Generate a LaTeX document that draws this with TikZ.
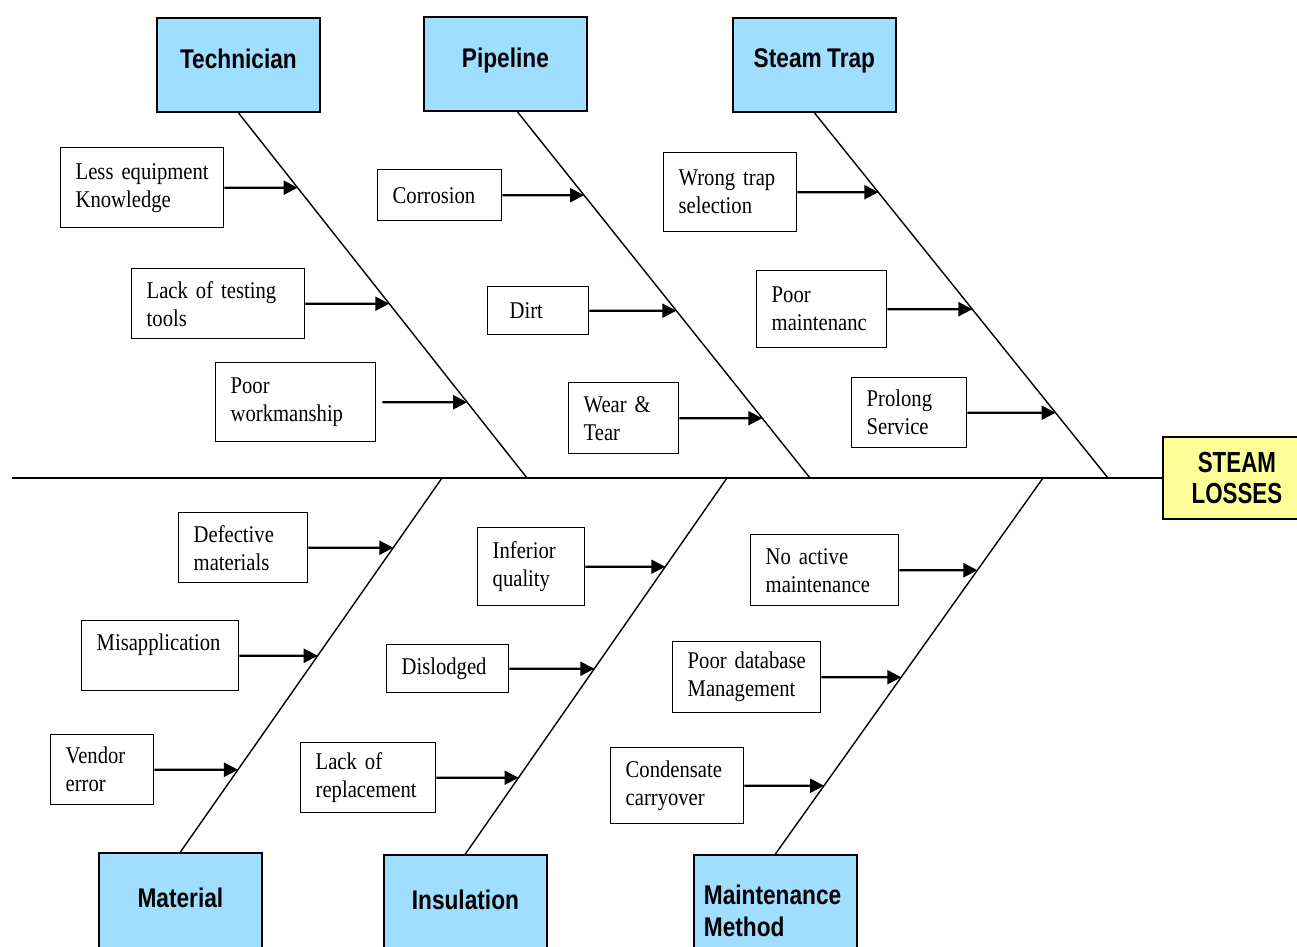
\documentclass[tikz,border=0pt]{standalone}
\usepackage{fontspec}
\setmainfont[FakeStretch=0.86,WordSpace=0.8]{Liberation Serif}
\newfontfamily\headfamily[FakeStretch=0.84,WordSpace=0.85]{Liberation Sans}
\newfontfamily\effectfamily[FakeStretch=0.77]{Liberation Sans}
\usetikzlibrary{arrows.meta}
\definecolor{headblue}{RGB}{160,222,255}
\definecolor{effectyellow}{RGB}{255,255,153}
\def\causefont{\fontsize{12}{14}\selectfont}
\def\headfont{\headfamily\bfseries\fontsize{13.5}{16}\selectfont}
\def\effectfont{\effectfamily\bfseries\fontsize{14.5}{15.5}\selectfont}
\tikzset{
  cause/.style={draw, line width=0.7pt, fill=white, anchor=north west, align=left,
    inner xsep=7.5pt, inner ysep=2pt, font=\causefont, text width=#1},
  head/.style={draw, line width=0.9pt, fill=headblue, anchor=north west,
    minimum width=81.5pt, font=\headfont},
  bone/.style={line width=0.7pt},
  arr/.style={line width=1.1pt, -{Triangle[length=7pt,width=7pt]}}
}

\begin{document}
\begin{tikzpicture}[x=0.5pt,y=-0.5pt]
          \useasboundingbox (0,0) rectangle (1297,947);
          \node[head, minimum height=47pt, text height=10pt, text depth=6pt] (tech) at (156,17) {Technician};
          \node[head, minimum height=47pt, text height=10pt, text depth=6pt] (pipe) at (423,16) {Pipeline};
          \node[head, minimum height=47pt, text height=10pt, text depth=7pt] (trap) at (732,17) {Steam Trap};
          \node[head, minimum height=60pt, text height=10pt, text depth=15pt] (mat) at (98,852) {Material};
          \node[head, minimum height=60pt, text height=10pt, text depth=15pt] (ins) at (383,854) {Insulation};
          \node[head, minimum height=56pt, align=left, inner xsep=5pt, text width=71.5pt] (meth) at (693,854) {Maintenance\\Method};
          \node[draw, line width=0.9pt, fill=effectyellow, anchor=west, minimum width=74pt,
                minimum height=41pt, align=center, font=\effectfont] (effect) at (1162,478) {STEAM\\LOSSES};

          \coordinate (tail) at (12,478);
          \coordinate (s1) at (527,478);
          \coordinate (s2) at (810,478);
          \coordinate (s3) at (1108,478);
          \coordinate (m1) at (442,478);
          \coordinate (m2) at (727,478);
          \coordinate (m3) at (1043,478);
          \coordinate (pb) at ([xshift=6pt]pipe.south);

          \draw [line width=0.9pt] (tail) -- (effect.west);
          \draw [bone] (tech.south) -- (s1);
          \draw [bone] (pb) -- (s2);
          \draw [bone] (trap.south) -- (s3);
          \draw [bone] (m1) -- (mat.north);
          \draw [bone] (m2) -- (ins.north);
          \draw [bone] (m3) -- (meth.north);

          \node[cause=66.5pt, minimum height=40pt] (c1) at (60,147) {Less~equipment\\Knowledge};
          \draw [arr] (c1.east) -- (intersection of c1.east--c1.west and tech.south--s1);
          \node[cause=71.5pt, minimum height=35pt] (c2) at (131,268) {Lack~of~testing\\tools};
          \draw [arr] (c2.east) -- (intersection of c2.east--c2.west and tech.south--s1);
          \node[cause=65pt, minimum height=39.5pt] (c3) at (215,362) {Poor\\workmanship};
          \draw [arr] ([xshift=3pt]c3.east) -- (intersection of c3.east--c3.west and tech.south--s1);

          \node[cause=47pt, minimum height=25.5pt] (c4) at (377,169) {Corrosion};
          \draw [arr] (c4.east) -- (intersection of c4.east--c4.west and pb--s2);
          \node[cause=28.5pt, inner xsep=11pt, minimum height=24pt] (c5) at (487,286) {Dirt};
          \draw [arr] (c5.east) -- (intersection of c5.east--c5.west and pb--s2);
          \node[cause=40pt, minimum height=35.5pt] (c6) at (568,382) {Wear~\&\\Tear};
          \draw [arr] (c6.east) -- (intersection of c6.east--c6.west and pb--s2);

          \node[cause=51.5pt, minimum height=39.5pt] (c7) at (663,152) {Wrong~trap\\selection};
          \draw [arr] (c7.east) -- (intersection of c7.east--c7.west and trap.south--s3);
          \node[cause=50pt, minimum height=38.5pt] (c8) at (756,270) {Poor\\maintenanc};
          \draw [arr] (c8.east) -- (intersection of c8.east--c8.west and trap.south--s3);
          \node[cause=42.5pt, minimum height=35pt] (c9) at (851,377) {Prolong\\Service};
          \draw [arr] (c9.east) -- (intersection of c9.east--c9.west and trap.south--s3);

          \node[cause=49.5pt, minimum height=35pt] (d1) at (178,512) {Defective\\materials};
          \draw [arr] (d1.east) -- (intersection of d1.east--d1.west and m1--mat.north);
          \node[cause=63.5pt, minimum height=35pt] (d2) at (81,620) {Misapplication\\~};
          \draw [arr] (d2.east) -- (intersection of d2.east--d2.west and m1--mat.north);
          \node[cause=36.5pt, minimum height=35pt] (d3) at (50,734) {Vendor\\error};
          \draw [arr] (d3.east) -- (intersection of d3.east--d3.west and m1--mat.north);

          \node[cause=38.5pt, minimum height=39pt] (d4) at (477,527) {Inferior\\quality};
          \draw [arr] (d4.east) -- (intersection of d4.east--d4.west and m2--ins.north);
          \node[cause=46pt, minimum height=24pt] (d5) at (386,644) {Dislodged};
          \draw [arr] (d5.east) -- (intersection of d5.east--d5.west and m2--ins.north);
          \node[cause=52.5pt, minimum height=35pt] (d6) at (300,742) {Lack~of\\replacement};
          \draw [arr] (d6.east) -- (intersection of d6.east--d6.west and m2--ins.north);

          \node[cause=59pt, minimum height=35.5pt] (d7) at (750,534) {No~active\\maintenance};
          \draw [arr] (d7.east) -- (intersection of d7.east--d7.west and m3--meth.north);
          \node[cause=59pt, minimum height=35.5pt] (d8) at (672,641) {Poor~database\\Management};
          \draw [arr] (d8.east) -- (intersection of d8.east--d8.west and m3--meth.north);
          \node[cause=51.5pt, minimum height=38pt] (d9) at (610,747) {Condensate\\carryover};
          \draw [arr] (d9.east) -- (intersection of d9.east--d9.west and m3--meth.north);
\end{tikzpicture}
\end{document}
